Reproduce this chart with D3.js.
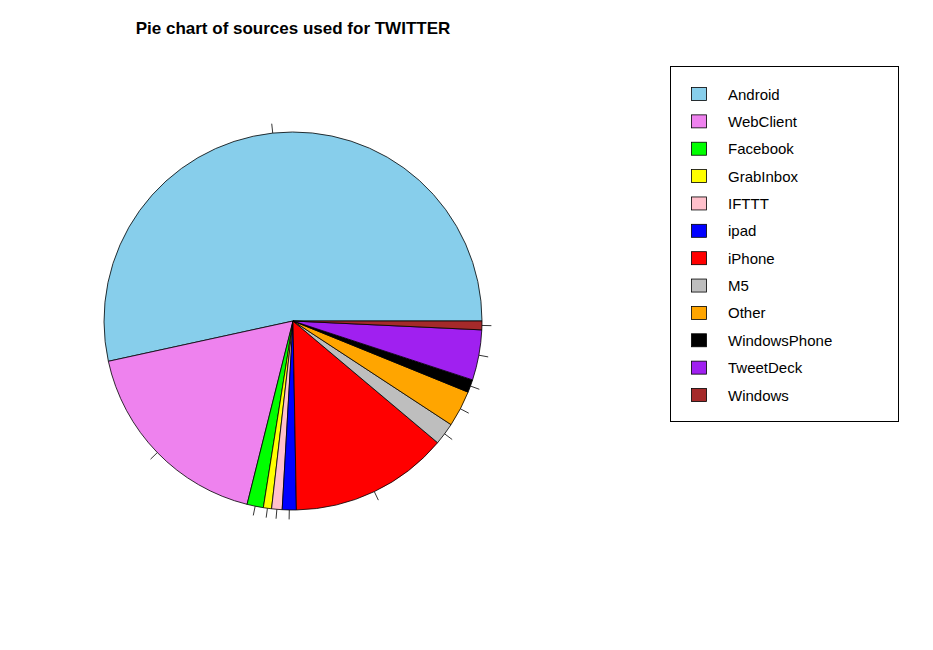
<!DOCTYPE html>
<html lang="en">
<head>
<meta charset="UTF-8">
<title>Pie chart of sources used for TWITTER</title>
<script src="https://d3js.org/d3.v7.min.js"></script>
<style>
body { margin: 0; background: #fff; }
text { font-family: "Liberation Sans", Arial, sans-serif; }
</style>
</head>
<body>
<div id="chart"></div>
<script>
// Sources and their share (percent)
const sources = ["Android", "WebClient", "Facebook", "GrabInbox", "IFTTT", "ipad",
                 "iPhone", "M5", "Other", "WindowsPhone", "TweetDeck", "Windows"];
const shares = [53.5, 17.7, 1.4, 0.7, 0.9, 1.2, 13.6, 1.9, 3.1, 1.1, 4.3, 0.75];
const colors = ["skyblue", "violet", "#00ff00", "yellow", "pink", "blue",
                "red", "gray", "orange", "black", "purple", "brown"];
const sliceColors = ["#87ceeb", "#ee82ee", "#00ff00", "#ffff00", "#ffc0cb", "#0000ff",
                     "#ff0000", "#bebebe", "#ffa500", "#000000", "#a020f0", "#a52a2a"];

const width = 933, height = 650;
const cx = 293, cy = 321, r = 189;

const svg = d3.select("#chart").append("svg")
    .attr("width", width).attr("height", height);

svg.append("text")
    .attr("x", 293).attr("y", 34)
    .attr("text-anchor", "middle")
    .attr("font-size", 17).attr("font-weight", "bold")
    .text("Pie chart of sources used for TWITTER");

const data = sources.map((s, i) => ({name: s, value: shares[i], color: sliceColors[i]}));

// R draws counter-clockwise from 3 o'clock; d3 angles are clockwise from 12
const pie = d3.pie().value(d => d.value).sort(null)
    .startAngle(Math.PI / 2).endAngle(Math.PI / 2 - 2 * Math.PI);
const arcs = pie(data);
const arc = d3.arc().innerRadius(0).outerRadius(r);

const g = svg.append("g").attr("transform", `translate(${cx},${cy})`);
g.selectAll("path").data(arcs).join("path")
    .attr("d", arc)
    .attr("fill", d => d.data.color)
    .attr("stroke", "#000").attr("stroke-width", 0.8);

// small tick marks at each slice midpoint
g.selectAll("line.tick").data(arcs).join("line")
    .attr("class", "tick")
    .each(function(d) {
        const a = (d.startAngle + d.endAngle) / 2;
        d3.select(this)
            .attr("x1", Math.sin(a) * r).attr("y1", -Math.cos(a) * r)
            .attr("x2", Math.sin(a) * r * 1.05).attr("y2", -Math.cos(a) * r * 1.05);
    })
    .attr("stroke", "#000").attr("stroke-width", 0.8);

// legend
const legend = svg.append("g");
legend.append("rect")
    .attr("x", 670.5).attr("y", 66.5).attr("width", 228).attr("height", 355)
    .attr("fill", "none").attr("stroke", "#000");

const ly = d3.scaleLinear().domain([0, sources.length - 1]).range([94, 395]);
const item = legend.selectAll("g.item").data(data).join("g")
    .attr("class", "item")
    .attr("transform", (d, i) => `translate(0,${ly(i)})`);
item.append("rect")
    .attr("x", 691.5).attr("y", -6.5).attr("width", 15).attr("height", 13)
    .attr("fill", d => d.color).attr("stroke", "#000").attr("stroke-width", 0.8);
item.append("text")
    .attr("x", 728).attr("y", 5.5)
    .attr("font-size", 15)
    .text(d => d.name);
</script>
</body>
</html>
